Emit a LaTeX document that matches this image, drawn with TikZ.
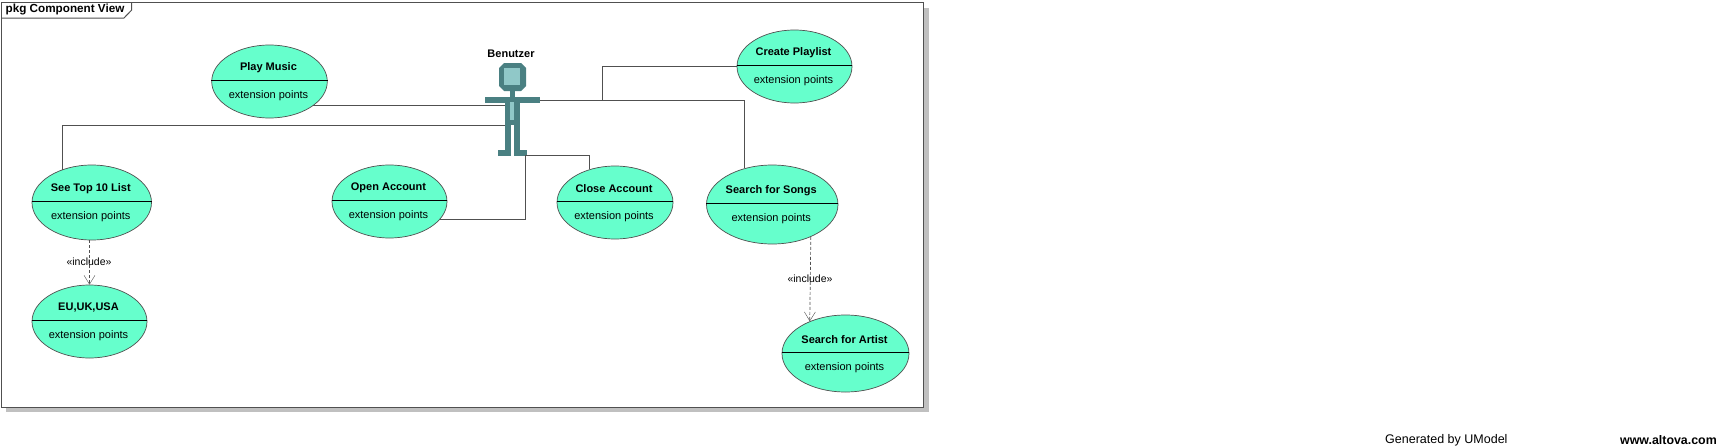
\documentclass[tikz,border=0pt]{standalone}
\usepackage{fontspec}
\setmainfont{Liberation Sans}
\usetikzlibrary{positioning, arrows.meta, calc, shapes.geometric}
\definecolor{usecasefill}{RGB}{102,255,204}
\definecolor{actorteal}{RGB}{74,128,130}
\definecolor{actorlight}{RGB}{144,200,200}
\definecolor{framegray}{RGB}{80,80,80}
\definecolor{shadowgray}{RGB}{192,192,192}
\tikzset{
  usecase/.style={ellipse, draw=framegray, line width=0.7pt, fill=usecasefill, inner sep=0pt},
  boldtext/.style={font=\fontsize{11}{13}\selectfont\bfseries, inner sep=0pt},
  plaintext/.style={font=\fontsize{11}{13}\selectfont, inner sep=0pt},
  actorpart/.style={fill=actorteal, inner sep=0pt},
  assoc/.style={draw=framegray, line width=0.8pt},
  includes/.style={draw=framegray, line width=0.7pt, dash pattern=on 3pt off 2pt, -{Straight Barb[length=9pt,width=11pt,line width=0.4pt]}}
}

\begin{document}
\begin{tikzpicture}[x=1pt, y=-1pt]
  \useasboundingbox (0,0) rectangle (1726,447);
  \fill[white] (0,0) rectangle (1726,447);
  % frame
  \fill[shadowgray] (6,8) rectangle (929,412);
  \draw[framegray, fill=white, line width=1pt] (1.5,2.5) rectangle (923,407);
  \draw[framegray, line width=1pt] (1.5,18) -- (124,18) -- (131.7,10) -- (131.7,2.5);
  \node[boldtext, font=\fontsize{11.7}{13}\selectfont\bfseries, anchor=west] (pkgtitle) at (5.5,10) {pkg Component View};

  % use cases
  \foreach \nm/\cx/\cy/\ew/\eh/\ttl in {
    play/269.5/81.5/115.6/73/Play Music,
    create/794.5/66.5/115/73/Create Playlist,
    see/91.75/202.5/119.5/75/See Top 10 List,
    open/389.5/201.5/115/73/Open Account,
    close/615/202.5/116/73/Close Account,
    songs/772.25/204.5/131.5/79/Search for Songs,
    eu/89.5/321.5/115/73/{EU,UK,USA},
    artist/845.5/353.5/127/77/Search for Artist}
  {
    \node[usecase, minimum width=\ew pt, minimum height=\eh pt] (\nm) at (\cx,\cy) {};
    \draw[black, line width=0.8pt] ([yshift=1pt]\nm.west) -- ([yshift=1pt]\nm.east);
    \node[boldtext] (\nm title) at (\cx-1,\cy-14) {\ttl};
    \node[plaintext] (\nm ext) at (\cx-1,\cy+14.5) {extension points};
  }

  % actor
  \node[boldtext] (benutzer) at (511,54) {Benutzer};
  \fill[actorteal] (504,63) -- (521,63) -- (526,68) -- (526,86) -- (521,91) -- (504,91) -- (499,86) -- (499,68) -- cycle;
  \fill[actorlight] (504,68) rectangle (520,85);
  \fill[actorteal] (510,91) rectangle (515,97);
  \node[actorpart, minimum width=55pt, minimum height=6pt] (arms) at (512.5,100) {};
  \node[actorpart, minimum width=15pt, minimum height=22pt] (torso) at (512.5,114) {};
  \fill[actorlight] (510,102) rectangle (514,120);
  \fill[actorteal] (505,125) rectangle (511,150);
  \fill[actorteal] (514,125) rectangle (520,150);
  \node[actorpart, minimum width=13pt, minimum height=6pt] (footl) at (504.5,153) {};
  \node[actorpart, minimum width=13pt, minimum height=6pt] (footr) at (520.5,153) {};
  \coordinate (footjoin) at (525.3,155);
  \coordinate (armjoin) at (602.7,100);

  % associations
  \draw[assoc] (play.-29) -- (play.-29 -| torso.west);
  \draw[assoc] (see.132) |- (torso.south west);
  \draw[assoc] (open.-19) -| (footjoin);
  \draw[assoc] (footjoin) -| (close.128);
  \draw[assoc] (create.west) -| (armjoin);
  \draw[assoc] (arms.east) -| (songs.128);

  % includes
  \draw[includes] (see.south -| eu.north) -- (eu.north);
  \draw[includes] (songs.-40) -- (artist.138);
  \node[plaintext, font=\fontsize{10.5}{13}\selectfont] (inclleft) at (89,261.7) {«include»};
  \node[plaintext, font=\fontsize{10.5}{13}\selectfont] (inclright) at (810,278.7) {«include»};

  % footer
  \node[plaintext, font=\fontsize{12.5}{14}\selectfont, anchor=west] (generated) at (1385,440.5) {Generated by UModel};
  \node[boldtext, font=\fontsize{12.4}{14}\selectfont\bfseries, anchor=east] (altova) at (1717,440.5) {www.altova.com};
\end{tikzpicture}
\end{document}
